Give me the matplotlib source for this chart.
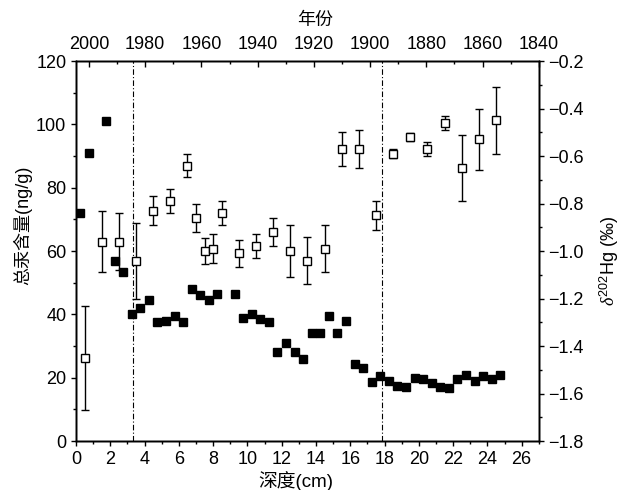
import matplotlib
matplotlib.use('Agg')
import matplotlib.pyplot as plt
from matplotlib.ticker import MultipleLocator

plt.rcParams['font.family'] = ['Liberation Sans', 'Noto Sans CJK SC', 'DejaVu Sans']
plt.rcParams['mathtext.fontset'] = 'custom'
plt.rcParams['mathtext.rm'] = 'Liberation Sans'
plt.rcParams['mathtext.it'] = 'Liberation Serif:italic'

# total Hg (filled squares)
hg_depth = [0.25, 0.75, 1.75, 2.25, 2.75, 3.25, 3.75, 4.25, 4.75, 5.25, 5.75, 6.25,
            6.75, 7.25, 7.75, 8.25, 9.25, 9.75, 10.25, 10.75, 11.25, 11.75, 12.25,
            12.75, 13.25, 13.75, 14.25, 14.75, 15.25, 15.75, 16.25, 16.75, 17.25,
            17.75, 18.25, 18.75, 19.25, 19.75, 20.25, 20.75, 21.25, 21.75, 22.25,
            22.75, 23.25, 23.75, 24.25, 24.75]
hg = [72, 91, 101, 57, 53.5, 40, 42, 44.5, 37.5, 38, 39.5, 37.5,
      48, 46, 44.5, 46.5, 46.5, 39, 40, 38.5, 37.5, 28, 31,
      28, 26, 34, 34, 39.5, 34, 38, 24.3, 23, 18.5,
      20.5, 19, 17.5, 17, 20, 19.5, 18.3, 17, 16.7, 19.5,
      21, 19, 20.5, 19.5, 21]

# delta202Hg (open squares)
d_depth = [0.5, 1.5, 2.5, 3.5, 4.5, 5.5, 6.5, 7.0, 7.5, 8.0, 8.5, 9.5, 10.5, 11.5,
           12.5, 13.5, 14.5, 15.5, 16.5, 17.5, 18.5, 19.5, 20.5, 21.5, 22.5, 23.5, 24.5]
delta = [-1.45, -0.96, -0.96, -1.04, -0.83, -0.79, -0.64, -0.86, -1.00, -0.99, -0.84,
         -1.01, -0.98, -0.92, -1.00, -1.04, -0.99, -0.57, -0.57, -0.85, -0.59, -0.52,
         -0.57, -0.46, -0.65, -0.53, -0.45]
delta_err = [0.22, 0.13, 0.12, 0.16, 0.06, 0.05, 0.05, 0.06, 0.055, 0.06, 0.05,
             0.057, 0.05, 0.06, 0.11, 0.10, 0.10, 0.07, 0.08, 0.06, 0.018, 0.018,
             0.03, 0.03, 0.14, 0.13, 0.14]

boundaries = [3.3, 17.86]
year_ticks = [2000, 1980, 1960, 1940, 1920, 1900, 1880, 1860, 1840]

fig = plt.figure(figsize=(6.28, 4.9), dpi=100)
ax = fig.add_axes([0.121, 0.1, 0.737, 0.7755])

ax.plot(hg_depth, hg, 's', color='black', markersize=6, zorder=3)
for b in boundaries:
    ax.axvline(b, color='black', linestyle=(0, (5, 2, 1, 2)), linewidth=0.8)

ax.set_xlim(0, 27)
ax.set_ylim(0, 120)
ax.xaxis.set_major_locator(MultipleLocator(2))
ax.xaxis.set_minor_locator(MultipleLocator(1))
ax.yaxis.set_major_locator(MultipleLocator(20))
ax.yaxis.set_minor_locator(MultipleLocator(10))
ax.tick_params(which='both', direction='out', labelsize=13, width=1)
ax.tick_params(which='major', length=3.5)
ax.tick_params(which='minor', length=2)
ax.set_xlabel('深度(cm)', fontsize=13.5)
ax.xaxis.set_label_coords(0.475, -0.079)
ax.set_ylabel('总汞含量(ng/g)', fontsize=13)
ax.yaxis.set_label_coords(-0.095, 0.568)

ax2 = ax.twinx()
ax2.errorbar(d_depth, delta, yerr=delta_err, fmt='s', markersize=5.5,
             markerfacecolor='white', markeredgecolor='black', markeredgewidth=1,
             ecolor='black', elinewidth=1, capsize=3, capthick=1, zorder=4)
ax2.set_ylim(-1.8, -0.2)
ax2.yaxis.set_major_locator(MultipleLocator(0.2))
ax2.yaxis.set_minor_locator(MultipleLocator(0.1))
ax2.yaxis.set_major_formatter(plt.FuncFormatter(lambda v, p: ('%.1f' % v).replace('-', '\u2212')))
ax2.tick_params(which='both', direction='out', labelsize=13, width=1)
ax2.tick_params(which='major', length=3.5)
ax2.tick_params(which='minor', length=2)
ax2.set_ylabel(r'$\it{\delta}^{202}$Hg ($\it{‰}$)', fontsize=13)
ax2.yaxis.set_label_coords(1.128, 0.474)

ax3 = ax.twiny()
ax3.set_xlim(2004.6, 1840)
ax3.set_xticks(year_ticks)
ax3.xaxis.set_minor_locator(MultipleLocator(10))
ax3.tick_params(which='both', direction='in', labelsize=13, width=1, pad=6)
ax3.tick_params(which='major', length=4.5)
ax3.tick_params(which='minor', length=2)
ax3.set_xlabel('年份', fontsize=13)
ax3.xaxis.set_label_coords(0.516, 1.095)

for a in (ax, ax2, ax3):
    for s in a.spines.values():
        s.set_linewidth(1)

fig.savefig('out.png', dpi=100)
